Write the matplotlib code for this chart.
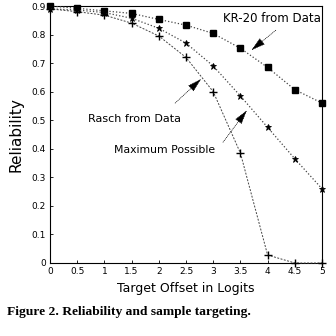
import matplotlib
matplotlib.use("Agg")
import matplotlib.pyplot as plt

offsets = [0, 0.5, 1, 1.5, 2, 2.5, 3, 3.5, 4, 4.5, 5]
kr20 = [0.90, 0.892, 0.883, 0.874, 0.853, 0.833, 0.804, 0.752, 0.685, 0.607, 0.56]
rasch = [0.89, 0.886, 0.877, 0.857, 0.822, 0.77, 0.69, 0.585, 0.475, 0.365, 0.26]
maxposs = [0.89, 0.88, 0.868, 0.84, 0.795, 0.72, 0.60, 0.385, 0.028, 0.0, 0.0]
xticks = [0, 0.5, 1, 1.5, 2, 2.5, 3, 3.5, 4, 4.5, 5]
xticklabels = ["0", "0.5", "1", "1.5", "2", "2.5", "3", "3.5", "4", "4.5", "5"]
yticks = [0, 0.1, 0.2, 0.3, 0.4, 0.5, 0.6, 0.7, 0.8, 0.9]
yticklabels = ["0", "0.1", "0.2", "0.3", "0.4", "0.5", "0.6", "0.7", "0.8", "0.9"]

fig = plt.figure(figsize=(3.36, 3.36), dpi=100)
ax = fig.add_axes([50/336, 1-263/336, 272/336, 257/336])

lc = "#444444"
ax.plot(offsets, kr20, linestyle=":", color=lc, lw=0.9, marker="s", ms=5,
        mfc="black", mec="black", clip_on=False, zorder=3)
ax.plot(offsets, rasch, linestyle=":", color=lc, lw=0.9, marker="*", ms=5,
        mfc="black", mec="black", mew=0.6, clip_on=False, zorder=3)
ax.plot(offsets, maxposs, linestyle="--", color=lc, lw=0.7, marker="+", ms=6,
        mec="black", mew=1.0, clip_on=False, zorder=3, dashes=(2, 1.5))

ax.set_xlim(0, 5)
ax.set_ylim(0, 0.9)
ax.set_xticks(xticks)
ax.set_xticklabels(xticklabels)
ax.set_yticks(yticks)
ax.set_yticklabels(yticklabels)
ax.tick_params(direction="in", length=2, width=0.6, labelsize=6.5, pad=3)
for s in ax.spines.values():
    s.set_linewidth(0.8)

ax.set_xlabel("Target Offset in Logits", fontsize=9, labelpad=4)
ax.set_ylabel("Reliability", fontsize=11, labelpad=6)

arrow = dict(arrowstyle="-|>,head_length=0.9,head_width=0.25", color="black",
             lw=0.5, linestyle=":", shrinkA=0, shrinkB=0)
ax.text(4.08, 0.856, "KR-20 from Data", fontsize=8.5, ha="center", va="center")
ax.annotate("", xy=(3.7, 0.745), xytext=(4.15, 0.815), arrowprops=arrow)
ax.text(1.55, 0.505, "Rasch from Data", fontsize=8, ha="center", va="center")
ax.annotate("", xy=(2.78, 0.645), xytext=(2.3, 0.56), arrowprops=arrow)
ax.text(2.1, 0.397, "Maximum Possible", fontsize=7.8, ha="center", va="center")
ax.annotate("", xy=(3.62, 0.535), xytext=(3.18, 0.423), arrowprops=arrow)

fig.text(7/336, 1-312.5/336, "Figure 2. Reliability and sample targeting.",
         fontsize=9.7, fontweight="bold", family="Liberation Serif",
         ha="left", va="center")

fig.savefig("out.png", dpi=100)
